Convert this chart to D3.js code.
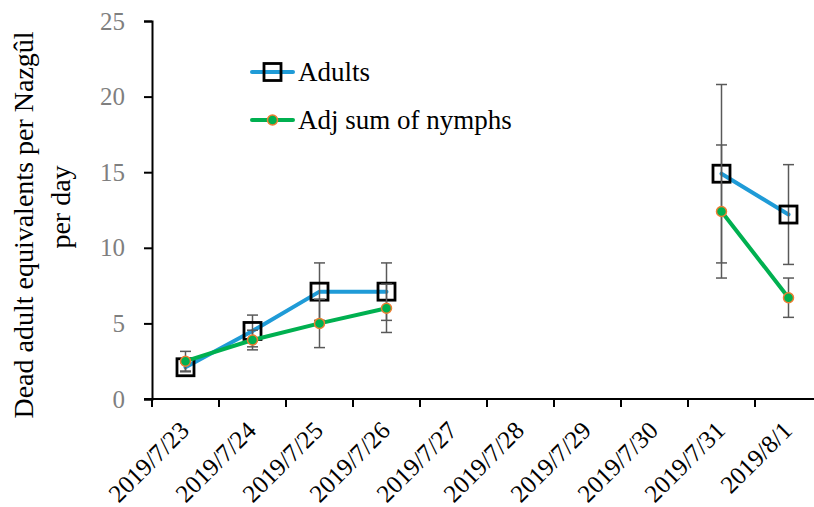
<!DOCTYPE html>
<html>
<head>
<meta charset="utf-8">
<script src="https://cdn.jsdelivr.net/npm/d3@7"></script>
<style>
  html, body { margin: 0; padding: 0; background: #fff; }
  svg { display: block; }
  text { font-family: "Liberation Serif", serif; }
</style>
</head>
<body>
<div id="chart"></div>
<script>
// Sampling dates (category axis)
const dates = ["2019/7/23", "2019/7/24", "2019/7/25", "2019/7/26", "2019/7/27",
               "2019/7/28", "2019/7/29", "2019/7/30", "2019/7/31", "2019/8/1"];
// Dead adult equivalents per Nazgûl per day (null = no sample)
const adults      = [2.1, 4.5, 7.1, 7.1, null, null, null, null, 14.9, 12.2];
const adultsErr   = [0.3, 1.05, 1.9, 1.9, null, null, null, null, 5.9, 3.3];
const nymphs      = [2.5, 3.9, 5.0, 6.0, null, null, null, null, 12.4, 6.7];
const nymphsErr   = [0.65, 0.65, 1.6, 1.6, null, null, null, null, 4.4, 1.3];
const yTicks      = [0, 5, 10, 15, 20, 25];
const seriesNames = ["Adults", "Adj sum of nymphs"];

const W = 814, H = 507;
const margin = { left: 152, top: 21, right: -8, bottom: 108 };
const innerW = W - margin.left - margin.right;
const innerH = H - margin.top - margin.bottom;

const svg = d3.select("#chart").append("svg")
  .attr("width", W).attr("height", H);

const g = svg.append("g").attr("transform", `translate(${margin.left},${margin.top})`);

const x = d3.scaleBand().domain(dates).range([0, innerW]);
const y = d3.scaleLinear().domain([0, 25]).range([innerH, 0]);

// Y axis
const yAxis = g.append("g").call(d3.axisLeft(y).tickValues(yTicks).tickSize(8).tickPadding(19));
yAxis.select(".domain").attr("stroke", "#000").attr("stroke-width", 2);
yAxis.selectAll(".tick line").attr("stroke", "#000").attr("stroke-width", 2);
yAxis.selectAll(".tick text").attr("fill", "#7f7f7f").style("font-size", "25px")
  .style("font-family", "Liberation Serif, serif");

// X axis with ticks on category boundaries
const xAxisG = g.append("g").attr("transform", `translate(0,${innerH})`);
xAxisG.append("line").attr("x1", -8).attr("x2", innerW).attr("y1", 0).attr("y2", 0)
  .attr("stroke", "#000").attr("stroke-width", 2);
xAxisG.selectAll("line.tick").data(dates).enter().append("line")
  .attr("class", "tick")
  .attr("x1", d => x(d)).attr("x2", d => x(d))
  .attr("y1", 0).attr("y2", 8)
  .attr("stroke", "#000").attr("stroke-width", 2);
xAxisG.selectAll("text.lbl").data(dates).enter().append("text")
  .attr("class", "lbl")
  .attr("transform", d => `translate(${x(d) + x.bandwidth() / 2 + 5},${33}) rotate(-45)`)
  .attr("text-anchor", "end")
  .style("font-size", "25px")
  .attr("fill", "#000")
  .text(d => d);

// Y axis title (two lines)
const title = svg.append("text")
  .attr("transform", `translate(33,225) rotate(-90)`)
  .attr("text-anchor", "middle")
  .style("font-size", "28px")
  .attr("fill", "#000");
title.append("tspan").attr("x", 0).attr("y", 0).text("Dead adult equivalents per Nazgûl");
title.append("tspan").attr("x", 18).attr("y", 37).text("per day");

const cx = d => x(d) + x.bandwidth() / 2;

function drawSeries(vals, errs, color, markerFn) {
  const pts = dates.map((d, i) => ({ d, v: vals[i], e: errs[i] }));
  const line = d3.line().defined(p => p.v != null)
    .x(p => cx(p.d)).y(p => y(p.v));
  g.append("path").datum(pts).attr("d", line)
    .attr("fill", "none").attr("stroke", color).attr("stroke-width", 4)
    .attr("stroke-linejoin", "round").attr("stroke-linecap", "round");
  const eb = g.append("g").selectAll("g").data(pts.filter(p => p.v != null)).enter().append("g")
    .attr("stroke", "#595959").attr("stroke-width", 1.5);
  eb.append("line").attr("x1", p => cx(p.d)).attr("x2", p => cx(p.d))
    .attr("y1", p => y(p.v + p.e)).attr("y2", p => y(p.v - p.e));
  eb.append("line").attr("x1", p => cx(p.d) - 5.5).attr("x2", p => cx(p.d) + 5.5)
    .attr("y1", p => y(p.v + p.e)).attr("y2", p => y(p.v + p.e));
  eb.append("line").attr("x1", p => cx(p.d) - 5.5).attr("x2", p => cx(p.d) + 5.5)
    .attr("y1", p => y(p.v - p.e)).attr("y2", p => y(p.v - p.e));
  markerFn(g, pts.filter(p => p.v != null).map(p => [cx(p.d), y(p.v)]));
}

function squares(sel, pts) {
  sel.append("g").selectAll("rect").data(pts).enter().append("rect")
    .attr("x", p => p[0] - 8.5).attr("y", p => p[1] - 8.5)
    .attr("width", 17).attr("height", 17)
    .attr("fill", "none").attr("stroke", "#000").attr("stroke-width", 2.8);
}
function dots(sel, pts) {
  sel.append("g").selectAll("circle").data(pts).enter().append("circle")
    .attr("cx", p => p[0]).attr("cy", p => p[1]).attr("r", 5)
    .attr("fill", "#00b050").attr("stroke", "#ed7d31").attr("stroke-width", 1.5);
}

drawSeries(adults, adultsErr, "#1f9bd7", squares);
drawSeries(nymphs, nymphsErr, "#00b050", dots);

// Legend
const legend = svg.append("g");
const legRows = [
  { name: seriesNames[0], color: "#1f9bd7", marker: squares, y: 72 },
  { name: seriesNames[1], color: "#00b050", marker: dots, y: 120 }
];
legRows.forEach(r => {
  legend.append("line").attr("x1", 252).attr("x2", 293).attr("y1", r.y).attr("y2", r.y)
    .attr("stroke", r.color).attr("stroke-width", 4).attr("stroke-linecap", "round");
  r.marker(legend, [[272.5, r.y]]);
  legend.append("text").attr("x", 298).attr("y", r.y + 9)
    .style("font-size", "27px").attr("fill", "#000").text(r.name);
});
</script>
</body>
</html>
